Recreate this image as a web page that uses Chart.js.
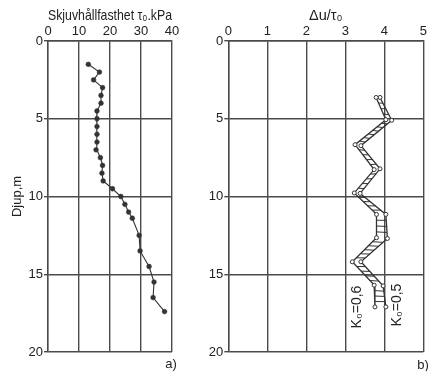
<!DOCTYPE html>
<html>
<head>
<meta charset="utf-8">
<script src="https://cdn.jsdelivr.net/npm/chart.js@4"></script>
<style>
  html, body { margin: 0; padding: 0; background: #fff; }
  #wrap { position: relative; width: 436px; height: 371px; }
  canvas { position: absolute; top: 0; }
</style>
</head>
<body>
<div id="wrap">
  <canvas id="shear" width="218" height="371" style="left:0"></canvas>
  <canvas id="pore" width="236" height="371" style="left:200px"></canvas>
</div>
<script>
// a) undrained shear strength profile
const shearDepth = [1.5, 2.0, 2.5, 3.0, 3.5, 4.0, 4.5, 5.0, 5.5, 6.0, 6.5, 7.0, 7.5, 8.0, 8.5, 9.0, 9.5, 10.0, 10.5, 11.0, 11.4, 12.5, 13.5, 14.5, 15.5, 16.5, 17.4];
const shearTau   = [13.0, 16.6, 14.7, 17.6, 17.1, 17.1, 15.8, 15.8, 15.8, 15.8, 15.8, 15.5, 16.9, 17.6, 17.4, 17.8, 20.8, 23.5, 24.8, 26.0, 27.2, 29.4, 29.7, 32.6, 34.2, 33.9, 37.6];
const shearTicksX = [0, 10, 20, 30, 40];

// b) normalised excess pore pressure for two K0 values
const k06Depth = [3.63, 5.06, 6.67, 8.27, 9.77, 11.15, 12.65, 14.2, 15.7, 17.1];
const k06Ratio = [3.79, 4.04, 3.25, 3.74, 3.23, 3.80, 3.80, 3.18, 3.74, 3.76];
const k05Depth = [3.63, 5.10, 6.73, 8.22, 9.80, 11.15, 12.70, 14.2, 15.75, 17.1];
const k05Ratio = [3.89, 4.19, 3.40, 3.89, 3.38, 4.04, 4.08, 3.40, 3.97, 4.04];
const poreTicksX = [0, 1, 2, 3, 4, 5];

const depthTicks = [0, 5, 10, 15, 20];

const INK = '#333';
const GRID = '#4a4a4a';
const TEXT = '#222';
const FONT = { family: '"Liberation Sans", Arial, sans-serif', size: 13 };
const TITLE_FONT = { family: '"Liberation Sans", Arial, sans-serif', size: 14.5 };

function toPoints(xs, ys) { return xs.map((x, i) => ({ x: x, y: ys[i] })); }

function depthAxis(width, titleText) {
  return {
    type: 'linear', reverse: true, min: 0, max: 20,
    afterBuildTicks: s => { s.ticks = depthTicks.map(v => ({ value: v })); },
    afterFit: s => { s.width = width; },
    ticks: { color: TEXT, font: FONT, padding: 1 },
    grid: { color: GRID, lineWidth: 1.4, tickLength: 4, tickColor: GRID },
    border: { color: GRID, width: 1.4 },
    title: titleText ? { display: true, text: titleText, color: TEXT, font: FONT, padding: { top: 10, bottom: 0 } } : { display: false }
  };
}

function topAxis(max, ticks, titleText) {
  return {
    type: 'linear', position: 'top', min: 0, max: max,
    afterBuildTicks: s => { s.ticks = ticks.map(v => ({ value: v })); },
    afterFit: s => { s.height = 41; },
    ticks: { color: TEXT, font: FONT, padding: 2, maxRotation: 0 },
    grid: { color: GRID, lineWidth: 1.4, drawTicks: false },
    border: { color: GRID, width: 1.4 },
    title: { display: true, text: titleText, color: TEXT, font: TITLE_FONT, padding: { top: 7, bottom: 0 } }
  };
}

// free text placed on the canvas after drawing
function textPlugin(items) {
  return {
    id: 'notes',
    afterDraw(chart) {
      const ctx = chart.ctx;
      ctx.save();
      ctx.fillStyle = TEXT;
      ctx.textAlign = 'center';
      ctx.textBaseline = 'middle';
      items.forEach(it => {
        ctx.save();
        ctx.font = (it.size || 13) + 'px "Liberation Sans", Arial, sans-serif';
        ctx.translate(it.x, it.y);
        if (it.rot) ctx.rotate(it.rot);
        ctx.fillText(it.text, 0, 0);
        ctx.restore();
      });
      ctx.restore();
    }
  };
}

new Chart(document.getElementById('shear'), {
  type: 'line',
  data: {
    datasets: [{
      data: toPoints(shearTau, shearDepth),
      borderColor: INK, borderWidth: 1.1,
      pointRadius: 2.4, pointBackgroundColor: INK, pointBorderColor: INK, pointBorderWidth: 0.5,
      tension: 0
    }]
  },
  options: {
    responsive: false, animation: false, devicePixelRatio: 1,
    layout: { padding: { left: 0, right: 46, top: 0, bottom: 19 } },
    plugins: { legend: { display: false }, tooltip: { enabled: false } },
    scales: {
      x: topAxis(40, shearTicksX, 'Skjuvhållfasthet τ₀.kPa'),
      y: depthAxis(48, 'Djup,m')
    }
  },
  plugins: [textPlugin([{ text: 'a)', x: 171, y: 364 }])]
});

// hatching between the two K0 curves
const hatch = {
  id: 'hatch',
  beforeDatasetsDraw(chart) {
    const a = chart.getDatasetMeta(0).data;
    const b = chart.getDatasetMeta(1).data;
    const ctx = chart.ctx;
    ctx.save();
    ctx.strokeStyle = INK;
    ctx.lineWidth = 1;
    for (let i = 0; i < a.length - 1; i++) {
      const len = Math.hypot(a[i + 1].x - a[i].x, a[i + 1].y - a[i].y);
      const n = Math.max(3, Math.round(len / 6));
      for (let j = 1; j < n; j++) {
        const t = j / n;
        const ax = a[i].x + (a[i + 1].x - a[i].x) * t;
        const ay = a[i].y + (a[i + 1].y - a[i].y) * t;
        const bx = b[i].x + (b[i + 1].x - b[i].x) * t;
        const by = b[i].y + (b[i + 1].y - b[i].y) * t;
        ctx.beginPath();
        ctx.moveTo(ax, ay);
        ctx.lineTo(bx, by);
        ctx.stroke();
      }
    }
    ctx.restore();
  }
};

const kStyle = {
  borderColor: INK, borderWidth: 1.3,
  pointRadius: 2, pointBackgroundColor: '#fff', pointBorderColor: INK, pointBorderWidth: 1,
  tension: 0
};

new Chart(document.getElementById('pore'), {
  type: 'line',
  data: {
    datasets: [
      Object.assign({ label: 'K₀=0,6', data: toPoints(k06Ratio, k06Depth) }, kStyle),
      Object.assign({ label: 'K₀=0,5', data: toPoints(k05Ratio, k05Depth) }, kStyle)
    ]
  },
  options: {
    responsive: false, animation: false, devicePixelRatio: 1,
    layout: { padding: { left: 0, right: 12.7, top: 0, bottom: 19 } },
    plugins: { legend: { display: false }, tooltip: { enabled: false } },
    scales: {
      x: topAxis(5, poreTicksX, 'Δu/τ₀'),
      y: depthAxis(28.3, null)
    }
  },
  plugins: [hatch, textPlugin([
    { text: 'K₀=0,6', x: 156.7, y: 307, rot: -Math.PI / 2, size: 14 },
    { text: 'K₀=0,5', x: 196.7, y: 305, rot: -Math.PI / 2, size: 14 },
    { text: 'b)', x: 223, y: 365 }
  ])]
});
</script>
</body>
</html>
